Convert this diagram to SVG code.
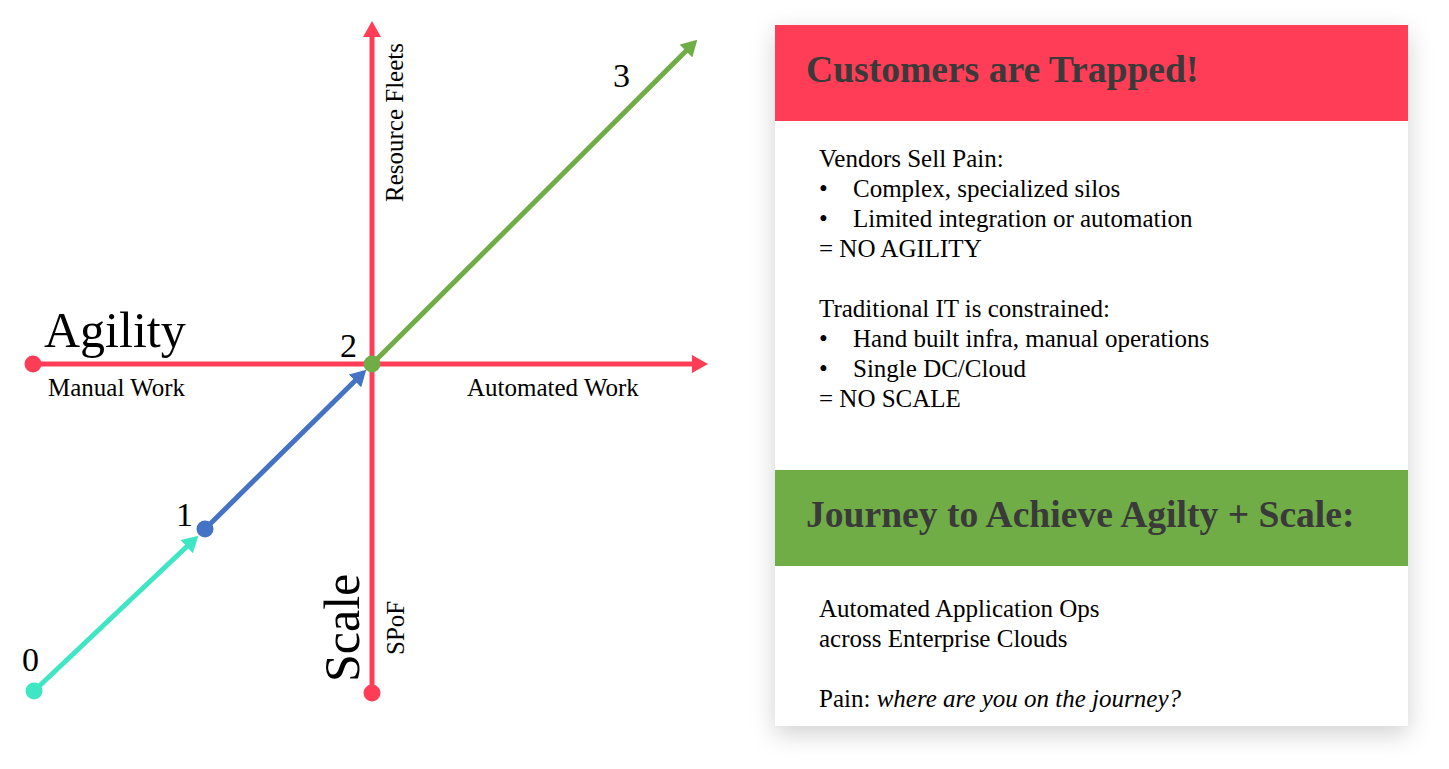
<svg xmlns="http://www.w3.org/2000/svg" width="1449" height="769" viewBox="0 0 1449 769">
<style>
.ax{stroke:#FF3D57;stroke-width:5;fill:none}
.t{font-family:"Liberation Serif","Times New Roman",serif;fill:#000}
.big{font-size:50px}
.num{font-size:34px}
.lbl{font-size:25px}
.hd{font-family:"Liberation Serif","Times New Roman",serif;font-weight:bold;font-size:37.6px;fill:#3A3A3A}
.body{font-family:"Liberation Serif","Times New Roman",serif;font-size:25px;fill:#000}
</style>
<defs>
<marker id="ar" viewBox="0 0 16 18" refX="1" refY="9" markerWidth="16" markerHeight="18" markerUnits="userSpaceOnUse" orient="auto"><path d="M0,0 L16,9 L0,18 z" fill="#FF3D57"/></marker>
<marker id="ag" viewBox="0 0 16 18" refX="1" refY="9" markerWidth="16" markerHeight="18" markerUnits="userSpaceOnUse" orient="auto"><path d="M0,0 L16,9 L0,18 z" fill="#70AD47"/></marker>
<marker id="ab" viewBox="0 0 16 18" refX="1" refY="9" markerWidth="16" markerHeight="18" markerUnits="userSpaceOnUse" orient="auto"><path d="M0,0 L16,9 L0,18 z" fill="#4472C4"/></marker>
<marker id="ac" viewBox="0 0 16 18" refX="1" refY="9" markerWidth="16" markerHeight="18" markerUnits="userSpaceOnUse" orient="auto"><path d="M0,0 L16,9 L0,18 z" fill="#3EE6C4"/></marker>
<filter id="sh" x="-10%" y="-10%" width="120%" height="125%"><feDropShadow dx="0" dy="8" stdDeviation="12" flood-color="#000" flood-opacity="0.18"/></filter>
</defs>

<g id="connectors">
<line class="ax" x1="33" y1="364" x2="693" y2="364" marker-end="url(#ar)"/>
<line class="ax" x1="372" y1="693" x2="372" y2="36" marker-end="url(#ar)"/>
<line x1="34" y1="691" x2="187.4" y2="546" stroke="#3EE6C4" stroke-width="5" marker-end="url(#ac)"/>
<line x1="205" y1="529" x2="355.6" y2="380.2" stroke="#4472C4" stroke-width="5" marker-end="url(#ab)"/>
<line x1="372" y1="364" x2="686.7" y2="50.3" stroke="#70AD47" stroke-width="5" marker-end="url(#ag)"/>
</g>

<g id="point-manual"><circle cx="33" cy="364" r="8.5" fill="#FF3D57"/></g>
<g id="point-spof"><circle cx="372" cy="693" r="8.5" fill="#FF3D57"/></g>
<g id="point-0"><circle cx="34" cy="691" r="8.5" fill="#3EE6C4"/><text class="t num" x="22" y="671">0</text></g>
<g id="point-1"><circle cx="205" cy="529" r="8.5" fill="#4472C4"/><text class="t num" x="176" y="526">1</text></g>
<g id="point-2"><circle cx="372" cy="364" r="8.5" fill="#70AD47"/><text class="t num" x="340" y="357">2</text></g>
<g id="point-3"><text class="t num" x="613" y="87">3</text></g>

<g id="axis-labels">
<text class="t big" x="44" y="347">Agility</text>
<text class="t lbl" x="48" y="396">Manual Work</text>
<text class="t lbl" x="467" y="396">Automated Work</text>
<text class="t big" font-size="49" transform="translate(359,682) rotate(-90)">Scale</text>
<text class="t lbl" transform="translate(404,655) rotate(-90)">SPoF</text>
<text class="t lbl" transform="translate(403,202) rotate(-90)">Resource Fleets</text>
</g>

<g id="card">
<rect x="775" y="25" width="633" height="701" fill="#fff" filter="url(#sh)"/>
<rect x="775" y="25" width="633" height="96" fill="#FF3D57"/>
<text class="hd" x="806" y="82">Customers are Trapped!</text>
<text class="body" x="819" y="167">Vendors Sell Pain:</text>
<text class="body" x="819" y="197">•</text><text class="body" x="853" y="197">Complex, specialized silos</text>
<text class="body" x="819" y="227">•</text><text class="body" x="853" y="227">Limited integration or automation</text>
<text class="body" x="819" y="257">= NO AGILITY</text>
<text class="body" x="819" y="317">Traditional IT is constrained:</text>
<text class="body" x="819" y="347">•</text><text class="body" x="853" y="347">Hand built infra, manual operations</text>
<text class="body" x="819" y="377">•</text><text class="body" x="853" y="377">Single DC/Cloud</text>
<text class="body" x="819" y="407">= NO SCALE</text>
<rect x="775" y="470" width="633" height="96" fill="#70AD47"/>
<text class="hd" x="806" y="527">Journey to Achieve Agilty + Scale:</text>
<text class="body" x="819" y="617">Automated Application Ops</text>
<text class="body" x="819" y="647">across Enterprise Clouds</text>
<text class="body" x="819" y="707">Pain: <tspan font-style="italic">where are you on the journey?</tspan></text>
</g>
</svg>
